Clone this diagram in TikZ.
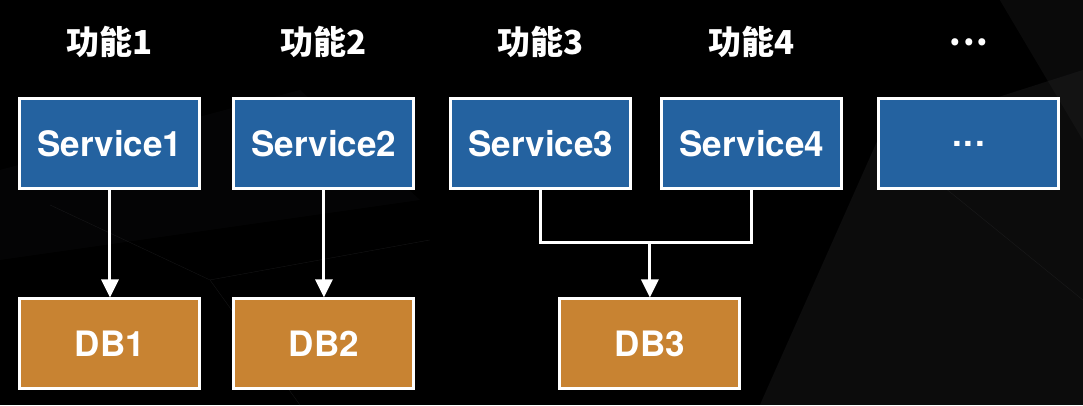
\documentclass[tikz,border=0pt]{standalone}
\usepackage{fontspec}
\setmainfont{TeX Gyre Heros}
\newfontfamily\cjk{Noto Sans CJK SC}
\usetikzlibrary{positioning,arrows.meta}
\definecolor{svcblue}{RGB}{36,98,160}
\definecolor{dborange}{RGB}{200,131,50}
\definecolor{bgshade}{RGB}{40,40,42}
\newcommand\moredots{{.}\kern1.5pt{.}\kern1.5pt{.}}

\tikzset{
  svcbox/.style={draw=white,line width=3pt,fill=svcblue,minimum width=180pt,minimum height=90pt,
    text=white,font=\fontsize{35}{40}\selectfont\bfseries},
  dbbox/.style={svcbox,fill=dborange},
  funclabel/.style={text=white,font=\cjk\fontsize{33}{38}\selectfont\bfseries},
  link/.style={draw=white,line width=3pt},
  arrow/.style={link,-{Triangle[width=17pt,length=18pt]}}
}

\begin{document}
\begin{tikzpicture}[x=1pt,y=-1pt]
  % background
  \fill[black] (0,0) rectangle (1083,405);
  \fill[bgshade,opacity=0.3] (760,405) -- (880,135) -- (1083,70) -- (1083,405) -- cycle;
  \fill[bgshade,opacity=0.25] (1000,0) -- (1083,0) -- (1083,140) -- cycle;
  \fill[bgshade,opacity=0.12] (0,170) -- (300,90) -- (420,200) -- (0,260) -- cycle;
  \draw[bgshade,opacity=0.5] (50,205) -- (210,280) -- (430,240);
  \draw[bgshade,opacity=0.5] (210,280) -- (300,405);
  \draw[bgshade,opacity=0.5] (880,135) -- (1083,300);
  \useasboundingbox (0,0) rectangle (1083,405);

  % services
  \foreach \i/\xpos/\txt/\lbl in {1/110/Service1/功能1,2/324/Service2/功能2,3/541/Service3/功能3,
      4/752/Service4/功能4,5/969/\moredots/\moredots}{
    \node[svcbox] (s\i) at (\xpos,144) {\txt};
    \node[funclabel] (f\i) at (\xpos,42) {\lbl};
  }

  % databases
  \node[dbbox] (db1) at (110,344) {DB1};
  \node[dbbox] (db2) at (324,344) {DB2};
  \node[dbbox] (db3) at (650,344) {DB3};

  % connectors
  \coordinate (j) at (650,243);
  \draw[arrow] (s1) -- (db1);
  \draw[arrow] (s2) -- (db2);
  \draw[link] (s3.south) |- (j) -| (s4.south);
  \draw[arrow] (j) -- (db3);
\end{tikzpicture}
\end{document}
